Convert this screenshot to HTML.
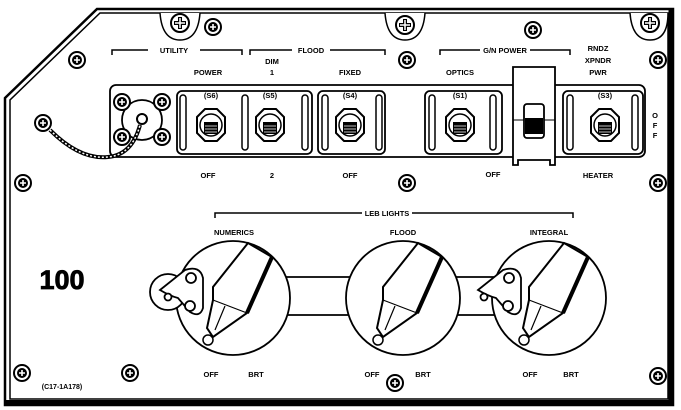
<!DOCTYPE html>
<html><head><meta charset="utf-8"><style>
html,body{margin:0;padding:0;background:#fff;}
svg{display:block;}
text{font-family:"Liberation Sans",sans-serif;font-weight:bold;fill:#000;}
</style></head><body>
<svg width="681" height="410" viewBox="0 0 681 410" xmlns="http://www.w3.org/2000/svg">
<defs>
<g id="scr"><circle r="8" fill="#fff" stroke="#000" stroke-width="2"/><circle r="5" fill="#000"/><path d="M-3,0H3M0,-3V3" stroke="#fff" stroke-width="1.6"/></g>
<g id="bscr"><circle r="9" fill="#fff" stroke="#000" stroke-width="2"/><path d="M-6,0H6M0,-6V6" stroke="#000" stroke-width="4"/><path d="M-5,0H5M0,-5V5" stroke="#fff" stroke-width="1.5"/></g>
<g id="tog"><polygon points="-14,-8 -6,-16 6,-16 14,-8 14,8 6,16 -6,16 -14,8" fill="#fff" stroke="#000" stroke-width="2"/><circle r="11" fill="#fff" stroke="#000" stroke-width="1.5"/><rect x="-7" y="-3" width="14" height="12" fill="#000"/><path d="M-6,1H6M-6,4H6M-6,7H6" stroke="#fff" stroke-width="0.8"/></g>
<g id="knob"><polygon points="15,-55 39,-41 14,15 -20,39 -26,30 -20,2 -20,-11" fill="#fff" stroke="#000" stroke-width="2"/><path d="M39,-41 L14,15" stroke="#000" stroke-width="4"/><path d="M-20,2 L14,15 M-8,8 L-18,32" stroke="#000" stroke-width="1.2"/><circle cx="-25" cy="42" r="5" fill="#fff" stroke="#000" stroke-width="1.5"/></g>
</defs>
<path d="M97,9 H673 V405 H5 V98 Z" fill="none" stroke="#000" stroke-width="2.5"/>
<path d="M100,13 H668 V399 H10 V100 Z" fill="none" stroke="#000" stroke-width="1.5"/>
<path d="M671,9 V405" stroke="#000" stroke-width="5"/>
<path d="M5,402 H673" stroke="#000" stroke-width="4"/>
<path d="M160,13 Q162,40 180,40 Q198,40 200,13" fill="#fff" stroke="#000" stroke-width="1.5"/>
<path d="M385,13 Q387,40 405,40 Q423,40 425,13" fill="#fff" stroke="#000" stroke-width="1.5"/>
<path d="M630,13 Q632,40 650,40 Q668,40 668,13" fill="#fff" stroke="#000" stroke-width="1.5"/>
<use href="#bscr" x="180" y="23"/><use href="#bscr" x="405" y="25"/><use href="#bscr" x="650" y="23"/>
<use href="#scr" x="213" y="27"/><use href="#scr" x="533" y="30"/><use href="#scr" x="77" y="60"/>
<use href="#scr" x="407" y="60"/><use href="#scr" x="658" y="60"/><use href="#scr" x="23" y="183"/>
<use href="#scr" x="407" y="183"/><use href="#scr" x="658" y="183"/><use href="#scr" x="22" y="373"/>
<use href="#scr" x="130" y="373"/><use href="#scr" x="395" y="383"/><use href="#scr" x="658" y="376"/>
<g stroke="#000" stroke-width="1.5" fill="none">
<path d="M112,55 V50 H148 M200,50 H242 V55"/>
<path d="M250,55 V50 H292 M330,50 H385 V55"/>
<path d="M440,55 V50 H480 M530,50 H570 V55"/>
<path d="M215,218 V213 H362 M412,213 H573 V218"/>
</g>
<g font-size="7.5" text-anchor="middle">
<text x="174" y="53">UTILITY</text><text x="311" y="53">FLOOD</text><text x="505" y="53">G/N POWER</text><text x="387" y="216">LEB LIGHTS</text>
<text x="208" y="75">POWER</text><text x="272" y="64">DIM</text><text x="272" y="75">1</text><text x="350" y="75">FIXED</text>
<text x="460" y="75">OPTICS</text><text x="598" y="51">RNDZ</text><text x="598" y="63">XPNDR</text><text x="598" y="75">PWR</text>
<text x="534" y="89">IMU</text><text x="534" y="100">(S2)</text>
<text x="211" y="98">(S6)</text><text x="270" y="98">(S5)</text><text x="350" y="98">(S4)</text><text x="460" y="98">(S1)</text><text x="605" y="98">(S3)</text>
<text x="208" y="178">OFF</text><text x="272" y="178">2</text><text x="350" y="178">OFF</text><text x="493" y="177">OFF</text><text x="598" y="178">HEATER</text>
<text x="655" y="118">O</text><text x="655" y="128">F</text><text x="655" y="138">F</text>
<text x="234" y="235">NUMERICS</text><text x="403" y="235">FLOOD</text><text x="549" y="235">INTEGRAL</text>
<text x="233" y="353">(T3)</text><text x="407" y="351">(R1)</text><text x="549" y="351">(T2)</text>
<text x="211" y="377">OFF</text><text x="256" y="377">BRT</text><text x="372" y="377">OFF</text><text x="423" y="377">BRT</text><text x="530" y="377">OFF</text><text x="571" y="377">BRT</text>
<text x="62" y="389" font-size="7">(C17-1A178)</text>
</g>
<text x="62" y="289" font-size="27" text-anchor="middle" font-weight="bold" stroke="#000" stroke-width="0.8">100</text>
<g fill="none" stroke="#000" stroke-width="1.8">
<rect x="110" y="85" width="535" height="72" rx="6"/>
<rect x="177" y="91" width="135" height="63" rx="5"/>
<rect x="318" y="91" width="67" height="63" rx="5"/>
<rect x="425" y="91" width="77" height="63" rx="5"/>
<rect x="563" y="91" width="80" height="63" rx="5"/>
</g>
<g fill="#fff" stroke="#000" stroke-width="1.5">
<rect x="180" y="95" width="6" height="55" rx="3"/><rect x="242" y="95" width="6" height="55" rx="3"/><rect x="302" y="95" width="6" height="55" rx="3"/>
<rect x="322" y="95" width="6" height="55" rx="3"/><rect x="376" y="95" width="6" height="55" rx="3"/>
<rect x="429" y="95" width="6" height="55" rx="3"/><rect x="490" y="95" width="6" height="55" rx="3"/>
<rect x="567" y="95" width="6" height="55" rx="3"/><rect x="632" y="95" width="6" height="55" rx="3"/>
</g>
<use href="#tog" x="211" y="125"/><use href="#tog" x="270" y="125"/><use href="#tog" x="350" y="125"/><use href="#tog" x="460" y="125"/><use href="#tog" x="605" y="125"/>
<path d="M513,67 H555 V165 H550 V160 H518 V165 H513 Z" fill="#fff" stroke="#000" stroke-width="1.8"/>
<path d="M513,120 H555" stroke="#000" stroke-width="1"/>
<rect x="524" y="104" width="20" height="34" rx="3" fill="#fff" stroke="#000" stroke-width="1.8"/>
<rect x="525" y="118" width="18" height="16" fill="#000"/>
<circle cx="142" cy="120" r="20" fill="#fff" stroke="#000" stroke-width="1.8"/>
<use href="#scr" x="122" y="102"/><use href="#scr" x="162" y="102"/><use href="#scr" x="122" y="137"/><use href="#scr" x="162" y="137"/>
<circle cx="142" cy="119" r="5" fill="#fff" stroke="#000" stroke-width="2"/>
<use href="#scr" x="43" y="123"/>
<path d="M50,130 Q80,160 108,157 Q132,155 140,125" fill="none" stroke="#000" stroke-width="4"/>
<path d="M50,130 Q80,160 108,157 Q132,155 140,125" fill="none" stroke="#fff" stroke-width="1.5" stroke-dasharray="2 2"/>
<g stroke="#000" stroke-width="1.8" fill="#fff">
<path d="M285,277 H500 M285,315 H500" fill="none"/>
<circle cx="233" cy="298" r="57"/>
<circle cx="403" cy="298" r="57"/>
<circle cx="549" cy="298" r="57"/>
<circle cx="168" cy="292" r="18"/>
<path d="M160,290 L185,270 Q200,265 203,278 L203,308 Q200,318 190,312 L178,298 Q170,296 160,290 Z"/>
<circle cx="191" cy="278" r="5"/><circle cx="190" cy="306" r="5"/><circle cx="168" cy="297" r="3.5"/>
<path d="M478,290 L503,270 Q518,265 521,278 L521,308 Q518,318 508,312 L496,298 Q488,296 478,290 Z"/>
<circle cx="509" cy="278" r="5"/><circle cx="508" cy="306" r="5"/><circle cx="484" cy="297" r="3.5"/>
</g>
<use href="#knob" x="233" y="298"/><use href="#knob" x="403" y="298"/><use href="#knob" x="549" y="298"/>
</svg>
</body></html>
